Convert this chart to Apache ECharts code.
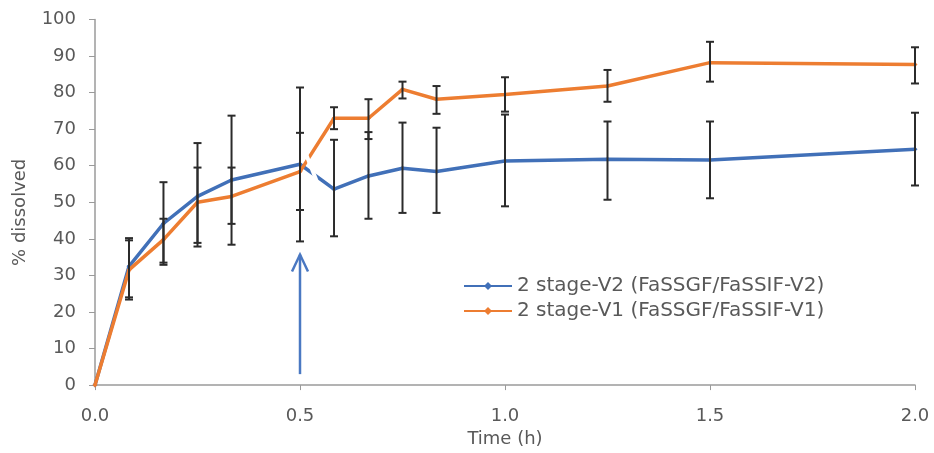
<!DOCTYPE html>
<html>
<head>
<meta charset="utf-8">
<script src="https://cdn.jsdelivr.net/npm/echarts@6/dist/echarts.min.js"></script>
<style>
  html, body { margin: 0; padding: 0; background: #fff; }
  #chart-container { width: 934px; height: 453px; }
</style>
</head>
<body>
<div id="chart-container"></div>
<script>
// Sampling times (h)
const times = [0, 0.083, 0.167, 0.25, 0.333, 0.5, 0.583, 0.667, 0.75, 0.833, 1.0, 1.25, 1.5, 2.0];

// 2 stage-V2 (blue)
const v2Mean = [0, 32.5, 44.2, 51.6, 56.1, 60.4, 53.6, 57.2, 59.3, 58.4, 61.3, 61.8, 61.6, 64.5];
const v2Low  = [null, 24.0, 32.9, 37.9, 38.4, 39.3, 40.7, 45.5, 47.1, 47.1, 48.9, 50.7, 51.1, 54.6];
const v2High = [null, 40.2, 55.5, 66.2, 73.7, 81.4, 67.1, 69.2, 71.8, 70.4, 74.0, 72.1, 72.1, 74.5];

// 2 stage-V1 (orange)
const v1Mean = [0, 31.5, 39.8, 50.0, 51.6, 58.4, 73.0, 73.0, 80.9, 78.2, 79.5, 81.8, 88.2, 87.7];
const v1Low  = [null, 23.4, 33.5, 38.9, 44.1, 47.9, 70.0, 67.3, 78.4, 74.2, 74.8, 77.5, 83.0, 82.5];
const v1High = [null, 39.6, 45.5, 59.5, 59.5, 69.0, 76.0, 78.2, 83.0, 81.8, 84.2, 86.2, 93.9, 92.4];

const seriesNames = ['2 stage-V2 (FaSSGF/FaSSIF-V2)', '2 stage-V1 (FaSSGF/FaSSIF-V1)'];
const xTicks = [0, 0.5, 1.0, 1.5, 2.0];

// annotation: arrow at the medium change (x, from, to)
const arrowAt = [[0.5, 3, 35.7]];
// white break mark across the lines (x1, y1, x2, y2)
const breakMark = [[0.51, 64.5, 0.54, 56]];

const font = 'DejaVu Sans';
const textColor = '#595959';

const chartContainer = document.getElementById('chart-container');
const myChart = echarts.init(chartContainer);

function pairs(xs, ys) {
  return xs.map((x, i) => [x, ys[i]]);
}
function errData(xs, lo, hi) {
  const out = [];
  xs.forEach((x, i) => {
    if (lo[i] != null) out.push([x, lo[i], hi[i]]);
  });
  return out;
}

// error bars with caps
function renderErr(params, api) {
  const x = api.value(0);
  const p1 = api.coord([x, api.value(1)]);
  const p2 = api.coord([x, api.value(2)]);
  const w = 4;
  const st = { stroke: '#2b2b2b', lineWidth: 2 };
  return {
    type: 'group',
    children: [
      { type: 'line', shape: { x1: p1[0], y1: p1[1], x2: p2[0], y2: p2[1] }, style: st },
      { type: 'line', shape: { x1: p1[0] - w, y1: p1[1], x2: p1[0] + w, y2: p1[1] }, style: st },
      { type: 'line', shape: { x1: p2[0] - w, y1: p2[1], x2: p2[0] + w, y2: p2[1] }, style: st }
    ]
  };
}

function renderArrow(params, api) {
  const x = api.value(0);
  const a = api.coord([x, api.value(1)]);
  const b = api.coord([x, api.value(2)]);
  const st = { stroke: '#4a78c2', lineWidth: 2.5, fill: null };
  return {
    type: 'group',
    children: [
      { type: 'line', shape: { x1: a[0], y1: a[1], x2: b[0], y2: b[1] }, style: st },
      { type: 'polyline', shape: { points: [[b[0] - 8, b[1] + 17], [b[0], b[1]], [b[0] + 8, b[1] + 17]] }, style: st }
    ]
  };
}

function renderBreak(params, api) {
  const a = api.coord([api.value(0), api.value(1)]);
  const b = api.coord([api.value(2), api.value(3)]);
  return {
    type: 'line',
    shape: { x1: a[0], y1: a[1], x2: b[0], y2: b[1] },
    style: { stroke: '#ffffff', lineWidth: 4 }
  };
}

const option = {
  animation: false,
  backgroundColor: '#ffffff',
  textStyle: { fontFamily: font },
  grid: { left: 95, right: 19, top: 19.5, bottom: 67.3 },
  legend: {
    data: seriesNames,
    orient: 'vertical',
    left: 458,
    top: 271,
    itemWidth: 48,
    itemHeight: 10,
    itemGap: 5,
    textStyle: { fontFamily: font, fontSize: 20, color: textColor }
  },
  xAxis: {
    type: 'value',
    min: 0,
    max: 2,
    interval: 0.5,
    name: 'Time (h)',
    nameLocation: 'middle',
    nameGap: 44,
    nameTextStyle: { fontFamily: font, fontSize: 18, color: textColor },
    axisLine: { lineStyle: { color: '#9a9a9a', width: 1.5 } },
    axisTick: { show: true, length: 5, lineStyle: { color: '#9a9a9a' } },
    axisLabel: {
      margin: 22,
      fontSize: 18,
      color: textColor,
      fontFamily: font,
      formatter: v => xTicks.includes(v) ? v.toFixed(1) : ''
    },
    splitLine: { show: false }
  },
  yAxis: {
    type: 'value',
    min: 0,
    max: 100,
    interval: 10,
    name: '% dissolved',
    nameLocation: 'middle',
    nameGap: 66,
    nameTextStyle: { fontFamily: font, fontSize: 18, color: textColor, padding: [0, 20, 0, 0] },
    axisLine: { show: true, lineStyle: { color: '#9a9a9a', width: 1.5 } },
    axisTick: { show: true, length: 6, lineStyle: { color: '#9a9a9a' } },
    axisLabel: { margin: 19, fontSize: 18, color: textColor, fontFamily: font },
    splitLine: { show: false }
  },
  series: [
    {
      name: seriesNames[0],
      type: 'line',
      data: pairs(times, v2Mean),
      symbol: 'diamond',
      symbolSize: 5,
      color: '#4170b8',
      lineStyle: { width: 3.5, color: '#4170b8' },
      itemStyle: { color: '#4170b8' },
      z: 2
    },
    {
      name: seriesNames[1],
      type: 'line',
      data: pairs(times, v1Mean),
      symbol: 'diamond',
      symbolSize: 5,
      color: '#ed7d31',
      lineStyle: { width: 3.5, color: '#ed7d31' },
      itemStyle: { color: '#ed7d31' },
      z: 3
    },
    {
      type: 'custom',
      renderItem: renderBreak,
      data: breakMark,
      encode: { x: [0, 2], y: [1, 3] },
      silent: true,
      z: 4
    },
    {
      type: 'custom',
      renderItem: renderErr,
      data: errData(times, v2Low, v2High),
      encode: { x: 0, y: [1, 2] },
      z: 5
    },
    {
      type: 'custom',
      renderItem: renderErr,
      data: errData(times, v1Low, v1High),
      encode: { x: 0, y: [1, 2] },
      z: 5
    },
    {
      type: 'custom',
      renderItem: renderArrow,
      data: arrowAt,
      encode: { x: 0, y: [1, 2] },
      z: 5
    }
  ]
};

myChart.setOption(option);
</script>
</body>
</html>
